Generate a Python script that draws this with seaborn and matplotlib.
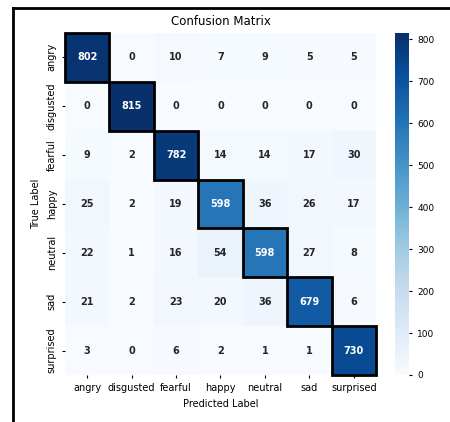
import numpy as np
import pandas as pd
import matplotlib
matplotlib.use("Agg")
import matplotlib.pyplot as plt
import seaborn as sns
from matplotlib.patches import Rectangle
from matplotlib.lines import Line2D

labels = ["angry", "disgusted", "fearful", "happy", "neutral", "sad", "surprised"]
row_angry = [802, 0, 10, 7, 9, 5, 5]
row_disgusted = [0, 815, 0, 0, 0, 0, 0]
row_fearful = [9, 2, 782, 14, 14, 17, 30]
row_happy = [25, 2, 19, 598, 36, 26, 17]
row_neutral = [22, 1, 16, 54, 598, 27, 8]
row_sad = [21, 2, 23, 20, 36, 679, 6]
row_surprised = [3, 0, 6, 2, 1, 1, 730]
cbar_ticks = [0, 100, 200, 300, 400, 500, 600, 700, 800]

cm = pd.DataFrame([row_angry, row_disgusted, row_fearful, row_happy,
                   row_neutral, row_sad, row_surprised],
                  index=labels, columns=labels)

W, H = 450, 422
fig = plt.figure(figsize=(W / 100, H / 100), dpi=100)
ax = fig.add_axes([65 / W, 1 - 375 / H, 311 / W, 342 / H])
cax = fig.add_axes([395 / W, 1 - 375 / H, 14 / W, 342 / H])

sns.heatmap(cm, annot=True, fmt="d", cmap="Blues", ax=ax, cbar_ax=cax,
            annot_kws={"fontsize": 7, "fontweight": "bold"})

n = len(labels)
for i in range(n):
    ax.add_patch(Rectangle((i, i), 1, 1, fill=False, edgecolor="black", lw=2, clip_on=False))

ax.set_title("Confusion Matrix", fontsize=8.5, pad=6)
ax.set_xlabel("Predicted Label", fontsize=7)
ax.set_ylabel("True Label", fontsize=7)
ax.tick_params(axis="both", labelsize=7, length=2.5, width=0.8)
ax.set_xticklabels(labels, rotation=0)
ax.set_yticklabels(labels, rotation=90, va="center")

cax.set_yticks(cbar_ticks)
cax.tick_params(labelsize=6.5, length=2.5, width=0.8)

fig.add_artist(Line2D([13 / W, 13 / W], [0, 1 - 8 / H], color="black", lw=2, transform=fig.transFigure))
fig.add_artist(Line2D([13 / W, 1], [1 - 8 / H, 1 - 8 / H], color="black", lw=2, transform=fig.transFigure))

fig.savefig("out.png", dpi=100)
